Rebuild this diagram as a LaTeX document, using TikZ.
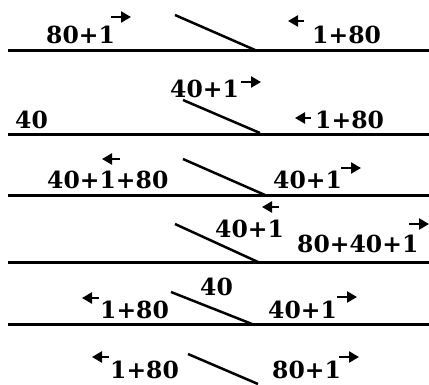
\documentclass[tikz,border=0pt]{standalone}
\usepackage{fontspec}
\newfontfamily\lblfont{DejaVu Serif}
\usetikzlibrary{arrows.meta}
\begin{document}
\begin{tikzpicture}[x=1pt,y=-1pt,
  lbl/.style={anchor=base west,inner sep=0pt,font=\lblfont\fontsize{23.5}{28}\selectfont\bfseries},
  hline/.style={line width=3pt},
  slash/.style={line width=2.5pt},
  arr/.style={line width=2.4pt,-{Triangle[length=10pt,width=11pt]}}]
\useasboundingbox (0,0) rectangle (429,384);
% horizontal lines
\foreach \y in {50,134,195,262,324} \draw[hline] (8,\y) -- (429,\y);
% diagonals
\draw[slash] (175,15) -- (255,50);
\draw[slash] (183,100) -- (260,133);
\draw[slash] (183,159) -- (265,195);
\draw[slash] (175,224) -- (258,262);
\draw[slash] (171,292) -- (252,324);
\draw[slash] (188,354) -- (258,384);
% texts
\node[lbl] (t1a) at (46,43) {80+1};
\node[lbl] (t1b) at (312,43) {1+80};
\node[lbl] (t2a) at (170,97) {40+1};
\node[lbl] (t2b) at (15,128) {40};
\node[lbl] (t2c) at (315,128) {1+80};
\node[lbl] (t3a) at (47,188) {40+1+80};
\node[lbl] (t3b) at (273,188) {40+1};
\node[lbl] (t4a) at (215,237) {40+1};
\node[lbl] (t4b) at (297,252) {80+40+1};
\node[lbl] (t5a) at (200,295) {40};
\node[lbl] (t5b) at (100,318) {1+80};
\node[lbl] (t5c) at (268,318) {40+1};
\node[lbl] (t6a) at (110,378) {1+80};
\node[lbl] (t6b) at (272,378) {80+1};
% arrows
\draw[arr] (111,17) -- (131,17);
\draw[arr] (304,21) -- (288,21);
\draw[arr] (241,82) -- (261,82);
\draw[arr] (311,118) -- (295,118);
\draw[arr] (120,159) -- (102,159);
\draw[arr] (341,168) -- (361,168);
\draw[arr] (279,207) -- (262,207);
\draw[arr] (409,224) -- (429,224);
\draw[arr] (99,298) -- (82,298);
\draw[arr] (337,297) -- (357,297);
\draw[arr] (109,357) -- (92,357);
\draw[arr] (339,357) -- (359,357);
\end{tikzpicture}
\end{document}
